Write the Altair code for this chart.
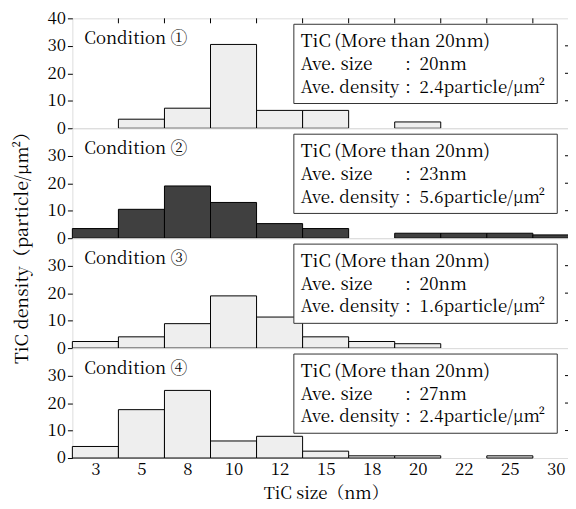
import altair as alt
import pandas as pd

# ---------------- data ----------------
sizes = ["3", "5", "8", "10", "12", "15", "18", "20", "22", "25", "30"]
cond1 = [0, 3.3, 7.3, 30.5, 6.5, 6.5, 0, 2.3, 0, 0, 0]
cond2 = [3.5, 10.5, 19.0, 13.0, 5.3, 3.5, 0, 1.8, 1.8, 1.8, 1.2]
cond3 = [2.4, 4.1, 8.9, 19.0, 11.3, 4.1, 2.4, 1.6, 0, 0, 0]
cond4 = [4.2, 17.6, 24.6, 6.2, 7.9, 2.5, 0.8, 0.8, 0, 0.8, 0]
series = [cond1, cond2, cond3, cond4]
cond_labels = ["Condition ①", "Condition ②", "Condition ③", "Condition ④"]
box_title = "TiC\u2009(More than 20nm)"
ave_size = ["20nm", "23nm", "20nm", "27nm"]
ave_density = ["2.4particle/μm²", "5.6particle/μm²", "1.6particle/μm²", "2.4particle/μm²"]
y_ticks_first = [0, 10, 20, 30, 40]
y_ticks_other = [0, 10, 20, 30]
right_ticks = [10, 20, 30]

FONT = "Noto Serif CJK JP"
FS = 17
BW = 46.5
W, H = 11 * BW, 111
fills = ["#eeeeee", "#404040", "#eeeeee", "#eeeeee"]

label_expr = "[" + ",".join("'%s'" % s for s in sizes) + "][floor(datum.value)]"


def text_layer(s, x, y, align="left", size=FS):
    return alt.Chart(pd.DataFrame({"t": [s]})).mark_text(
        align=align, baseline="middle", font=FONT, fontSize=size, color="black"
    ).encode(x=alt.value(x), y=alt.value(y), text="t:N")


def panel(i):
    vals = series[i]
    df = pd.DataFrame({"b": list(range(11)), "b2": list(range(1, 12)), "v": vals, "size": sizes})
    df = df[df.v > 0]
    xs = alt.Scale(domain=[0, 11], nice=False, zero=False)
    ys = alt.Scale(domain=[0, 40], nice=False)
    if i == 3:
        xaxis = alt.Axis(values=[k + 0.5 for k in range(11)], labelExpr=label_expr,
                         ticks=False, domain=False, grid=False, labelFlush=False,
                         labelOverlap=False,
                         labelFont=FONT, labelFontSize=FS, labelColor="black", labelPadding=4,
                         title="TiC size（nm）", titleFont=FONT, titleFontSize=FS,
                         titleFontWeight="normal", titleColor="black", titlePadding=8)
    else:
        xaxis = None
    yvals = y_ticks_first if i == 0 else y_ticks_other
    ykw = dict(values=yvals, grid=False, domain=False, tickSize=5, tickColor="black",
               labelFont=FONT, labelFontSize=FS, labelColor="black", labelPadding=2,
               labelFlush=False, labelOverlap=False)
    if i == 1:
        yaxis = alt.Axis(title="TiC density（particle/μm²）", titleFont=FONT, titleFontSize=18,
                         titleFontWeight="normal", titleColor="black", titleY=116,
                         titlePadding=16, **ykw)
    else:
        yaxis = alt.Axis(title=None, **ykw)

    bars = alt.Chart(df).mark_rect(fill=fills[i], stroke="black", strokeWidth=1).encode(
        x=alt.X("b:Q", scale=xs, axis=xaxis),
        x2="b2:Q",
        y=alt.Y("v:Q", scale=ys, axis=yaxis),
        y2=alt.datum(0),
    )
    rt = alt.Chart(pd.DataFrame({"v": right_ticks})).mark_rule(color="black").encode(
        y=alt.Y("v:Q", scale=ys, axis=yaxis), x=alt.value(W - 14), x2=alt.value(W)
    )
    box = alt.Chart(pd.DataFrame({"a": [0]})).mark_rect(
        fill="white", stroke="#333333", strokeWidth=1
    ).encode(x=alt.value(4.81 * BW), x2=alt.value(10.53 * BW), y=alt.value(6), y2=alt.value(86))
    tx = 4.96 * BW
    cx = 7.29 * BW
    vx = 7.54 * BW
    layers = [bars, rt, box,
              text_layer(cond_labels[i], 12, 21),
              text_layer(box_title, tx, 24, size=18),
              text_layer("Ave. size", tx, 47, size=17.5),
              text_layer(":", cx, 47, "center", size=17),
              text_layer(ave_size[i], vx, 47, size=17.5),
              text_layer("Ave. density", tx, 70, size=17),
              text_layer(":", cx, 70, "center", size=17),
              text_layer(ave_density[i], vx, 70, size=17)]
    if i == 0:
        tt = alt.Chart(pd.DataFrame({"b": list(range(1, 11))})).mark_rule(color="black").encode(
            x=alt.X("b:Q", scale=xs, axis=xaxis), y=alt.value(0), y2=alt.value(5)
        )
        layers.append(tt)
    return alt.layer(*layers).properties(width=W, height=H)


chart = alt.vconcat(*[panel(i) for i in range(4)], spacing=0, bounds="flush").properties(
    padding={"left": 4, "top": -2, "right": -12, "bottom": 0}
).configure_view(stroke="black", strokeWidth=1.2).configure(background="white")

chart.save("out.html", embed_options={"renderer": "svg", "actions": False})
